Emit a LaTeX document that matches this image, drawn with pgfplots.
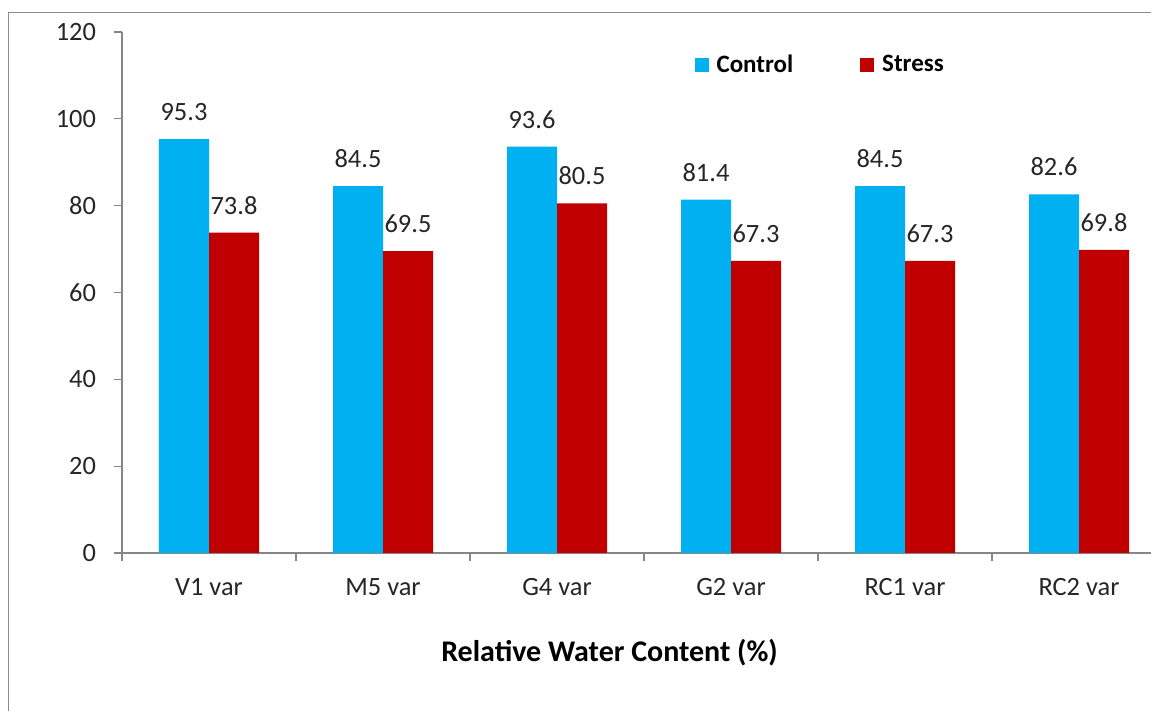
\documentclass[border=0pt]{standalone}
\usepackage{pgfplots}
\pgfplotsset{compat=1.18}
\usepackage{fontspec}
\setmainfont{Carlito}

\definecolor{ctrlblue}{HTML}{00B0F0}
\definecolor{stressred}{HTML}{C00000}
\definecolor{axisgray}{HTML}{868686}
\definecolor{framegray}{HTML}{8C8C8C}
\definecolor{txt}{HTML}{262626}

\pgfplotstableread{
idx control stress
0 95.3 73.8
1 84.5 69.5
2 93.6 80.5
3 81.4 67.3
4 84.5 67.3
5 82.6 69.8
}\rwc

\begin{document}
\begin{tikzpicture}[x=1pt,y=1pt]
\path[use as bounding box, fill=white] (0,0) rectangle (575.5,355.5);
\clip (0,0) rectangle (575.5,355.5);
\draw[framegray, line width=0.8pt] (4.25,-10) -- (4.25,349.25) -- (600,349.25);
\begin{axis}[
  at={(61pt,79pt)}, anchor=south west,
  scale only axis, width=522pt, height=260.5pt,
  xmin=-0.5, xmax=5.5, ymin=0, ymax=120,
  ybar=0pt, bar width=25pt,
  axis x line=bottom, axis y line=left,
  axis line style={-, draw=axisgray, line width=0.65pt},
  tick style={draw=axisgray, line width=0.65pt},
  tick align=outside, major tick length=4pt,
  ytick={0,20,...,120},
  yticklabel style={xshift=-5.5pt},
  xtick={-0.5,0.5,...,5.5}, xticklabels={},
  extra x ticks={0,1,2,3,4,5},
  extra x tick labels={V1 var,M5 var,G4 var,G2 var,RC1 var,RC2 var},
  extra x tick style={tick style={draw=none},
    xticklabel style={yshift=-5pt}},
  /pgf/number format/assume math mode=true,
  ticklabel style={font=\fontsize{13.2}{16}\selectfont, text=txt},
  xlabel={\textbf{Relative Water Content (\%)}},
  xlabel style={font=\fontsize{15}{18}\selectfont, text=black,
    at={(axis description cs:0.467,-0.209)}, anchor=base},
  nodes near coords={\pgfmathprintnumber[fixed,fixed zerofill,precision=1]{\pgfplotspointmeta}},
  every node near coord/.append style={font=\fontsize{13.2}{16}\selectfont,
    text=txt, anchor=base, yshift=9.25pt},
  legend columns=2,
  legend style={draw=none, fill=none, font=\bfseries\fontsize{12.5}{15}\selectfont,
    at={(0.549,0.965)}, anchor=north west, xshift=-3.5pt, yshift=2pt,
    /tikz/every odd column/.append style={column sep=2pt},
    /tikz/every even column/.append style={column sep=31.5pt}},
  legend image code/.code={\fill[#1] (0pt,-3.5pt) rectangle (7pt,3.5pt);},
]
\addplot[fill=ctrlblue, draw=none] table[x=idx, y=control] {\rwc};
\addplot[fill=stressred, draw=none] table[x=idx, y=stress] {\rwc};
\legend{Control, Stress}
\end{axis}
\end{tikzpicture}
\end{document}
